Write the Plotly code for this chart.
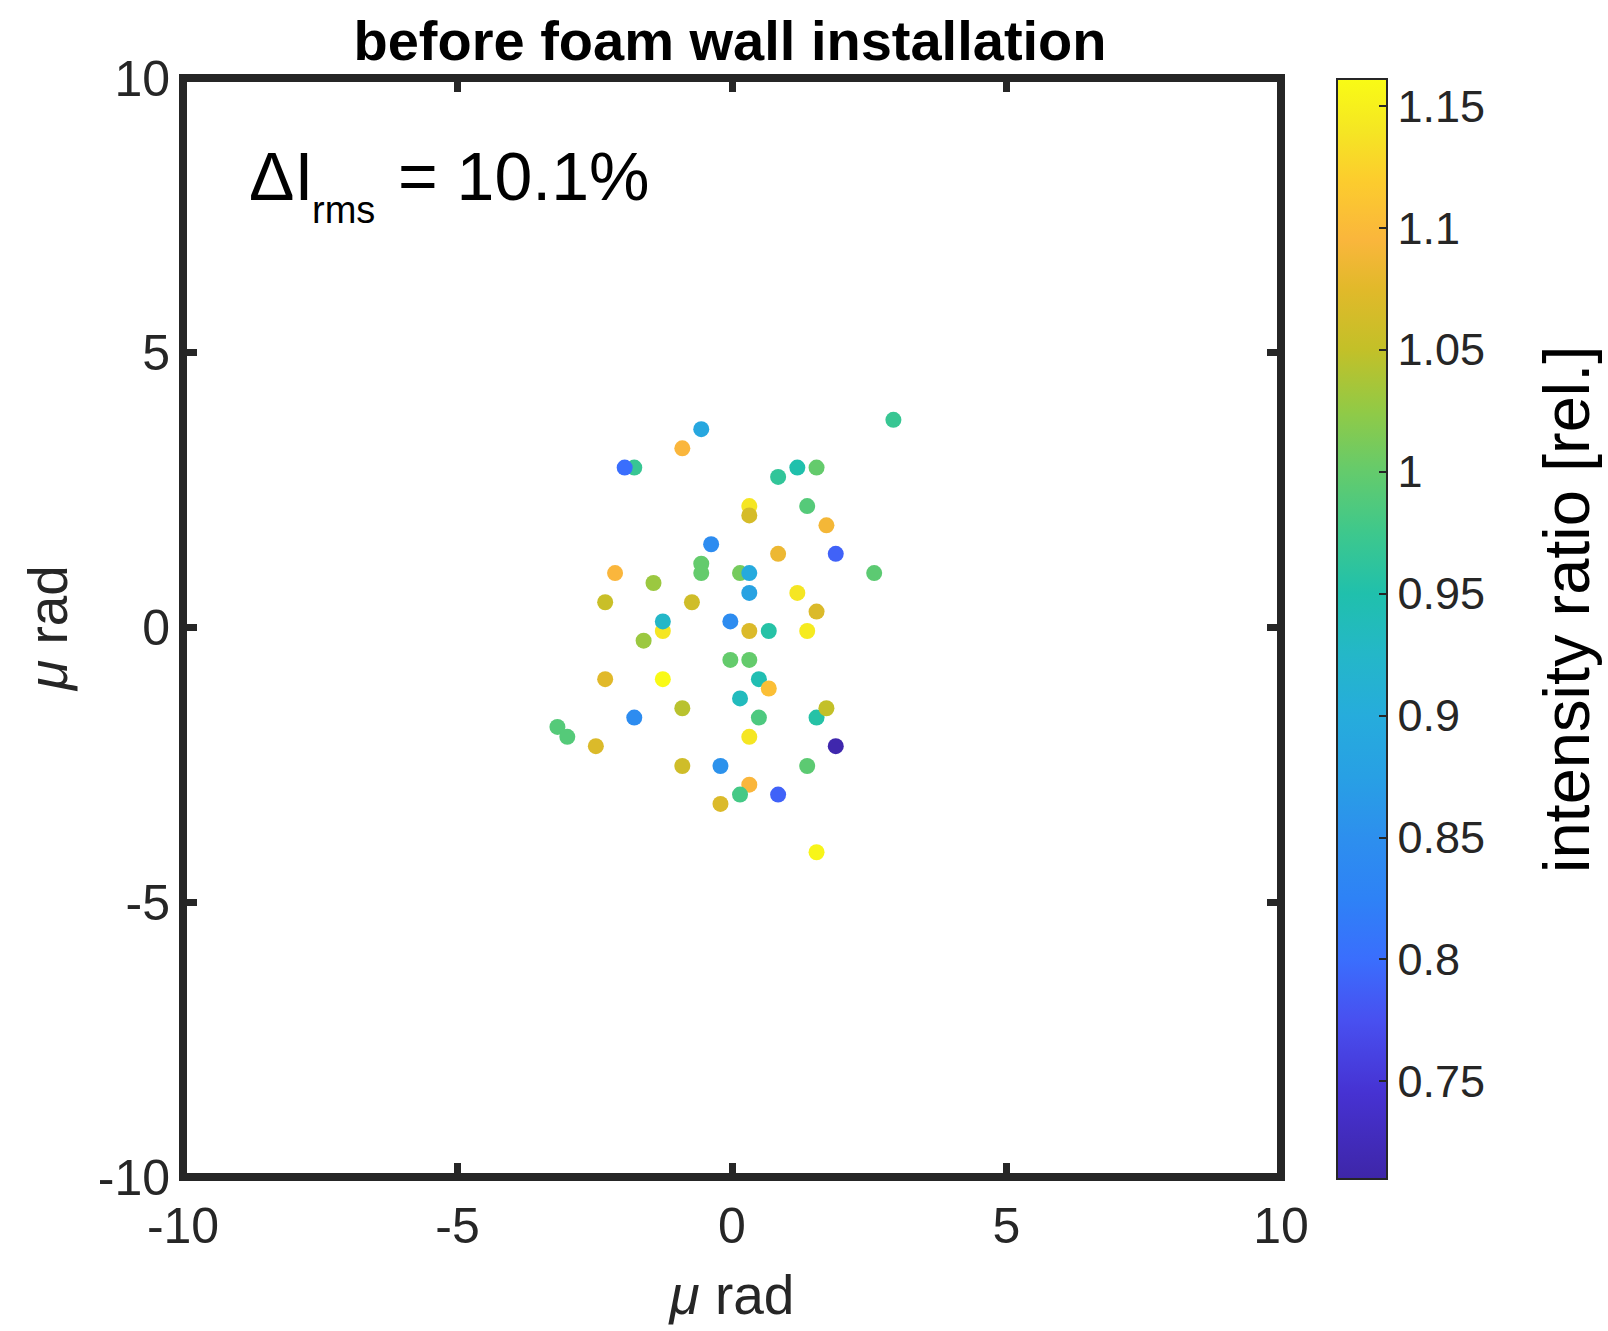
import plotly.graph_objects as go

# Beam pointing positions (micro-radians) and relative intensity per shot
x_urad = [
    -1.78, -1.955, 2.94, -0.56, -0.905, 0.84, 1.19, 1.54, 0.315, 0.315,
    1.37, 1.72, -0.38, 0.84, 1.89, -2.13, -0.56, -0.56, 0.146, 0.315,
    2.59, -1.43, 0.315, 1.19, -2.31, -0.73, 1.54, -1.26, -1.26, -0.03,
    0.315, 0.67, 1.37, -1.61, -0.03, 0.315, -2.31, -1.26, 0.49, 0.67,
    0.146, -0.905, 1.54, 1.72, -1.78, 0.49, -3.18, -3.0, -2.48, 0.315,
    1.89, -0.905, -0.21, 1.37, 0.315, 0.146, 0.84, -0.21, 1.54,
]
y_urad = [
    2.91, 2.91, 3.78, 3.61, 3.26, 2.74, 2.91, 2.91, 2.21, 2.04,
    2.21, 1.86, 1.515, 1.34, 1.34, 0.99, 1.16, 0.99, 0.99, 0.99,
    0.99, 0.81, 0.63, 0.63, 0.46, 0.46, 0.29, -0.064, 0.11, 0.11,
    -0.064, -0.064, -0.064, -0.24, -0.59, -0.59, -0.94, -0.94, -0.94, -1.11,
    -1.29, -1.47, -1.64, -1.47, -1.64, -1.64, -1.81, -1.99, -2.16, -1.99,
    -2.16, -2.52, -2.52, -2.52, -2.86, -3.04, -3.04, -3.21, -4.09,
]
intensity_ratio = [
    0.97, 0.80, 0.97, 0.89, 1.095, 0.965, 0.95, 1.0, 1.14, 1.065,
    0.99, 1.09, 0.845, 1.085, 0.79, 1.095, 1.0, 1.0, 1.01, 0.895,
    0.995, 1.03, 0.88, 1.14, 1.055, 1.06, 1.07, 1.14, 0.925, 0.845,
    1.07, 0.955, 1.145, 1.03, 1.0, 1.0, 1.075, 1.16, 0.945, 1.105,
    0.935, 1.045, 0.955, 1.05, 0.845, 0.985, 0.99, 0.99, 1.07, 1.14,
    0.714, 1.06, 0.855, 0.995, 1.095, 0.98, 0.79, 1.07, 1.155,
]

axis_ticks = [-10, -5, 0, 5, 10]
cbar_ticks = [0.75, 0.8, 0.85, 0.9, 0.95, 1.0, 1.05, 1.1, 1.15]
cbar_ticktext = ["0.75", "0.8", "0.85", "0.9", "0.95", "1", "1.05", "1.1", "1.15"]
c_lo, c_hi = 0.710, 1.161

# parula-like colour map
parula = [
    [0.000, "rgb(62,38,168)"],
    [0.078, "rgb(70,50,210)"],
    [0.144, "rgb(72,80,240)"],
    [0.200, "rgb(58,110,253)"],
    [0.255, "rgb(46,130,246)"],
    [0.310, "rgb(45,143,238)"],
    [0.366, "rgb(40,160,228)"],
    [0.421, "rgb(38,172,220)"],
    [0.477, "rgb(36,183,200)"],
    [0.532, "rgb(32,192,172)"],
    [0.588, "rgb(62,200,140)"],
    [0.643, "rgb(100,203,108)"],
    [0.698, "rgb(145,202,70)"],
    [0.754, "rgb(195,192,40)"],
    [0.809, "rgb(225,185,42)"],
    [0.854, "rgb(250,182,60)"],
    [0.909, "rgb(252,205,45)"],
    [0.953, "rgb(245,230,35)"],
    [1.000, "rgb(249,251,21)"],
]

W, H = 1608, 1331
L, R, T, B = 183, 1281, 78, 1177
PW, PH = R - L, B - T
ink = "#262626"
font = "Liberation Sans, Arial, Helvetica, sans-serif"


def px(xpix):
    return (xpix - L) / PW


def py(ypix):
    return (B - ypix) / PH


fig = go.Figure()
fig.add_trace(go.Scatter(
    x=x_urad, y=y_urad, mode="markers",
    marker=dict(
        size=16, color=intensity_ratio, colorscale=parula,
        cmin=c_lo, cmax=c_hi, line=dict(width=0), opacity=1,
        colorbar=dict(
            xref="paper", x=px(1337), xanchor="left", xpad=0,
            yref="paper", y=py(629), yanchor="middle", ypad=0,
            lenmode="pixels", len=1100,
            thickness=50, outlinecolor=ink, outlinewidth=2,
            ticks="inside", ticklen=9, tickwidth=2, tickcolor=ink,
            tickvals=cbar_ticks, ticktext=cbar_ticktext,
            tickfont=dict(family=font, size=45, color=ink),
        ),
    ),
    showlegend=False, hoverinfo="skip",
))

axis_common = dict(
    range=[-10, 10], tickvals=axis_ticks, ticktext=[str(v) for v in axis_ticks],
    ticks="inside", ticklen=14, tickwidth=7, tickcolor=ink,
    mirror="ticks", showline=False, showgrid=False, zeroline=False,
    tickfont=dict(family=font, size=50, color=ink),
)

fig.update_layout(
    width=W, height=H,
    margin=dict(l=L, r=W - R, t=T, b=H - B),
    paper_bgcolor="white", plot_bgcolor="white",
    font=dict(family=font, color=ink),
    title=dict(
        text="<b>before foam wall installation</b>",
        x=730 / W, xanchor="center", xref="container",
        y=1 - 40 / H, yanchor="middle", yref="container",
        font=dict(family=font, size=56, color="black"),
    ),
    xaxis=dict(**axis_common, ticklabelstandoff=15,
               title=dict(text="<i>μ</i> rad", standoff=22,
                          font=dict(family=font, size=55, color=ink))),
    yaxis=dict(**axis_common, ticklabelstandoff=12,
               title=dict(text="<i>μ</i> rad", standoff=12,
                          font=dict(family=font, size=55, color=ink))),
    shapes=[dict(
        type="rect", xref="paper", yref="paper", x0=0, x1=1, y0=0, y1=1,
        line=dict(color=ink, width=8), layer="above",
    )],
    annotations=[
        # delta I, subscript and value are placed as three pieces so the
        # subscript can sit lower and smaller than HTML <sub> allows
        dict(text="ΔI", xref="paper", yref="paper",
             x=px(247), xanchor="left", y=py(176), yanchor="middle",
             showarrow=False, font=dict(family=font, size=68, color="black")),
        dict(text="rms", xref="paper", yref="paper",
             x=px(310), xanchor="left", y=py(210), yanchor="middle",
             showarrow=False, font=dict(family=font, size=38, color="black")),
        dict(text="= 10.1%", xref="paper", yref="paper",
             x=px(396), xanchor="left", y=py(176), yanchor="middle",
             showarrow=False, font=dict(family=font, size=68, color="black")),
        dict(
            text="intensity ratio [rel.]", xref="paper", yref="paper",
            x=px(1566), xanchor="center",
            y=py(610), yanchor="middle", textangle=-90,
            showarrow=False, font=dict(family=font, size=65, color="black"),
        ),
    ],
)

fig.write_html("out.html")
